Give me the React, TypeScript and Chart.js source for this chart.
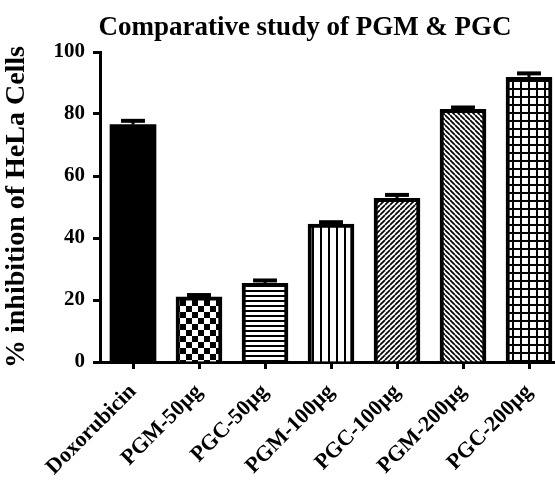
import React, { useEffect, useRef } from 'react';
import { Chart, registerables } from 'chart.js';

Chart.register(...registerables);

const categories = ['Doxorubicin', 'PGM-50µg', 'PGC-50µg', 'PGM-100µg', 'PGC-100µg', 'PGM-200µg', 'PGC-200µg'];
const inhibition = [76.6, 21.0, 25.4, 44.5, 52.8, 81.5, 91.8];
const errors = [1.2, 0.6, 0.9, 0.6, 1.1, 0.6, 1.3];
const patterns = ['solid', 'checker', 'hlines', 'vlines', 'diagUp', 'diagDown', 'grid'];
const yTicks = [0, 20, 40, 60, 80, 100];
const chartTitle = 'Comparative study of PGM & PGC';
const yTitle = '% inhibition of HeLa Cells';

const FAMILY = '"Liberation Serif", "Times New Roman", serif';

function makePattern(kind: string): CanvasPattern | string {
  if (kind === 'solid') return '#000';
  const c = document.createElement('canvas');
  let s = 8;
  if (kind === 'checker') s = 12;
  if (kind === 'hlines') s = 5;
  if (kind === 'vlines') s = 8;
  if (kind === 'diagUp' || kind === 'diagDown') s = 5;
  if (kind === 'grid') s = 8;
  c.width = s;
  c.height = s;
  const g = c.getContext('2d')!;
  g.fillStyle = '#fff';
  g.fillRect(0, 0, s, s);
  g.fillStyle = '#000';
  g.strokeStyle = '#000';
  if (kind === 'checker') {
    g.fillRect(0, 0, s / 2, s / 2);
    g.fillRect(s / 2, s / 2, s / 2, s / 2);
  } else if (kind === 'hlines') {
    g.fillRect(0, 0, s, 2);
  } else if (kind === 'vlines') {
    g.fillRect(0, 0, 2, s);
  } else if (kind === 'grid') {
    g.fillRect(0, 0, s, 2);
    g.fillRect(0, 0, 2, s);
  } else if (kind === 'diagUp') {
    g.lineWidth = 1.7;
    for (let k = -1; k <= 1; k++) {
      g.beginPath();
      g.moveTo(k * s, s);
      g.lineTo(k * s + s, 0);
      g.stroke();
    }
  } else if (kind === 'diagDown') {
    g.lineWidth = 1.7;
    for (let k = -1; k <= 1; k++) {
      g.beginPath();
      g.moveTo(k * s, 0);
      g.lineTo(k * s + s, s);
      g.stroke();
    }
  }
  const p = g.createPattern(c, 'repeat');
  return p || '#000';
}

const errorBarPlugin = {
  id: 'errorBars',
  afterDatasetsDraw(chart: any) {
    const meta = chart.getDatasetMeta(0);
    const y = chart.scales.y;
    const ctx = chart.ctx;
    ctx.save();
    ctx.strokeStyle = '#000';
    meta.data.forEach((bar: any, i: number) => {
      const x = bar.x;
      const top = y.getPixelForValue(inhibition[i] + errors[i]);
      const base = y.getPixelForValue(inhibition[i]);
      ctx.lineWidth = 3;
      ctx.beginPath();
      ctx.moveTo(x, base);
      ctx.lineTo(x, top);
      ctx.stroke();
      ctx.lineWidth = 4;
      const half = bar.width * 0.26;
      ctx.beginPath();
      ctx.moveTo(x - half, top);
      ctx.lineTo(x + half, top);
      ctx.stroke();
    });
    ctx.restore();
  },
};

const titlePlugin = {
  id: 'topTitle',
  afterDraw(chart: any) {
    const ctx = chart.ctx;
    ctx.save();
    ctx.font = `bold 27px ${FAMILY}`;
    ctx.fillStyle = '#000';
    ctx.textAlign = 'center';
    ctx.textBaseline = 'alphabetic';
    ctx.fillText(chartTitle, 305, 35);
    ctx.restore();
  },
};

export default function App() {
  const ref = useRef<HTMLCanvasElement | null>(null);

  useEffect(() => {
    if (!ref.current) return;
    const chart = new Chart(ref.current, {
      type: 'bar',
      data: {
        labels: categories,
        datasets: [
          {
            data: inhibition,
            backgroundColor: patterns.map(makePattern) as any,
            borderColor: '#000',
            borderWidth: patterns.map((k) => (k === 'solid' ? 0 : 4)),
            barThickness: 46,
          },
        ],
      },
      options: {
        responsive: false,
        animation: false,
        devicePixelRatio: 1,
        layout: { padding: { top: 52, left: 0, right: 0, bottom: 0 } },
        plugins: {
          legend: { display: false },
          title: { display: false },
          tooltip: { enabled: false },
        },
        scales: {
          x: {
            grid: {
              offset: false,
              drawOnChartArea: false,
              drawTicks: true,
              tickLength: 7,
              tickWidth: 3,
              tickColor: '#000',
            },
            border: { display: true, width: 3, color: '#000' },
            ticks: {
              font: { family: FAMILY, size: 22, weight: 'bold' },
              color: '#000',
              maxRotation: 45,
              minRotation: 45,
              autoSkip: false,
              padding: 10,
            },
            afterFit: (scale: any) => {
              scale.height = 119;
            },
          },
          y: {
            min: 0,
            max: 100,
            afterBuildTicks: (scale: any) => {
              scale.ticks = yTicks.map((v) => ({ value: v }));
            },
            grid: {
              drawOnChartArea: false,
              drawTicks: true,
              tickLength: 7,
              tickWidth: 3,
              tickColor: '#000',
            },
            border: { display: true, width: 3, color: '#000' },
            ticks: {
              font: { family: FAMILY, size: 21, weight: 'bold' },
              color: '#000',
              padding: 8,
            },
            title: {
              display: true,
              text: yTitle,
              font: { family: FAMILY, size: 28, weight: 'bold' },
              color: '#000',
              padding: 0,
            },
            afterFit: (scale: any) => {
              scale.width = 100;
            },
          },
        },
      },
      plugins: [errorBarPlugin, titlePlugin],
    });
    return () => chart.destroy();
  }, []);

  return (
    <div
      style={{
        position: 'fixed',
        left: 0,
        top: 0,
        width: 555,
        height: 481,
        overflow: 'hidden',
        background: '#fff',
      }}
    >
      <canvas ref={ref} width={562} height={481} style={{ display: 'block', width: 562, height: 481 }} />
    </div>
  );
}
